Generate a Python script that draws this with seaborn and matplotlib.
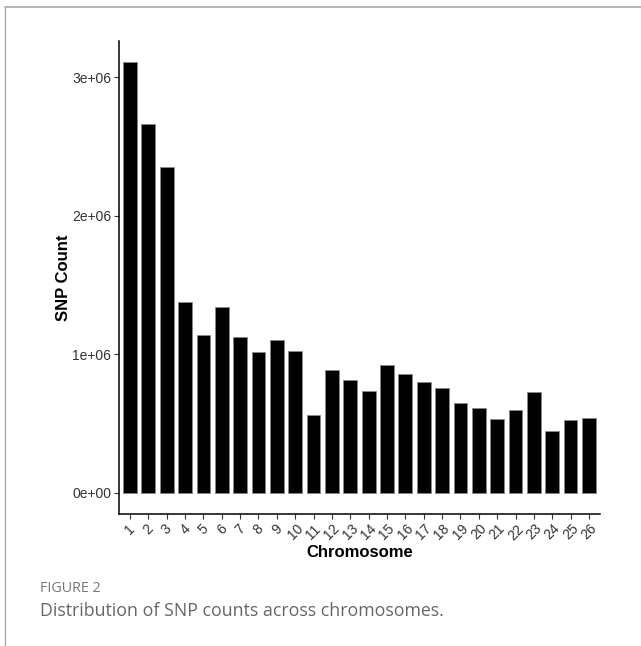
import numpy as np
import pandas as pd
import matplotlib
matplotlib.use("Agg")
import matplotlib.pyplot as plt
import seaborn as sns

# data
chromosomes = [str(i) for i in range(1, 27)]
snp_counts = [3.107e6, 2.66e6, 2.35e6, 1.377e6, 1.14e6, 1.34e6, 1.125e6, 1.015e6,
              1.10e6, 1.02e6, 0.557e6, 0.885e6, 0.81e6, 0.733e6, 0.923e6, 0.86e6,
              0.80e6, 0.755e6, 0.647e6, 0.61e6, 0.534e6, 0.598e6, 0.728e6, 0.447e6,
              0.524e6, 0.539e6]
y_ticks = [0, 1e6, 2e6, 3e6]
y_labels = ["0e+00", "1e+06", "2e+06", "3e+06"]

df = pd.DataFrame({"Chromosome": chromosomes, "SNP": snp_counts})

sns.set_style("white")
plt.rcParams["font.family"] = ["Liberation Sans", "DejaVu Sans"]

fig = plt.figure(figsize=(6.41, 6.46), dpi=100)
ax = fig.add_axes([0.1856, 0.2043, 0.7504, 0.7322])

sns.barplot(data=df, x="Chromosome", y="SNP", color="black", width=0.75,
            edgecolor="#888888", linewidth=0.6, saturation=1, ax=ax)

ax.set_xlim(-0.6, 25.6)
ax.set_ylim(-0.155e6, 3.262e6)
ax.set_yticks(y_ticks)
ax.set_yticklabels(y_labels, fontsize=10, color="#333333")
ax.set_xticks(range(len(chromosomes)))
ax.set_xticklabels(chromosomes, rotation=45, ha="center", fontsize=10, color="#333333")
ax.tick_params(axis="both", length=3.5, width=0.8, color="#333333", pad=2, bottom=True, left=True)

for s in ["top", "right"]:
    ax.spines[s].set_visible(False)
for s in ["left", "bottom"]:
    ax.spines[s].set_color("black")
    ax.spines[s].set_linewidth(1.1)

ax.set_xlabel("Chromosome", fontsize=12, fontweight="bold", labelpad=2, color="black")
ax.set_ylabel("SNP Count", fontsize=12, fontweight="bold", labelpad=1, color="black")

# frame lines of the page and caption
fig.add_artist(plt.Line2D([0.008, 1.0], [0.989, 0.989], color="#aaaaaa", lw=1.2))
fig.add_artist(plt.Line2D([0.008, 0.008], [0.0, 0.989], color="#aaaaaa", lw=1.0))
fig.text(0.063, 0.084, "FIGURE 2", fontsize=10.3, color="#777777", family=["Open Sans", "DejaVu Sans"])
fig.text(0.063, 0.047, "Distribution of SNP counts across chromosomes.", fontsize=12.8,
         color="#666666", family=["Open Sans", "DejaVu Sans"])

fig.savefig("out.png", dpi=100)
